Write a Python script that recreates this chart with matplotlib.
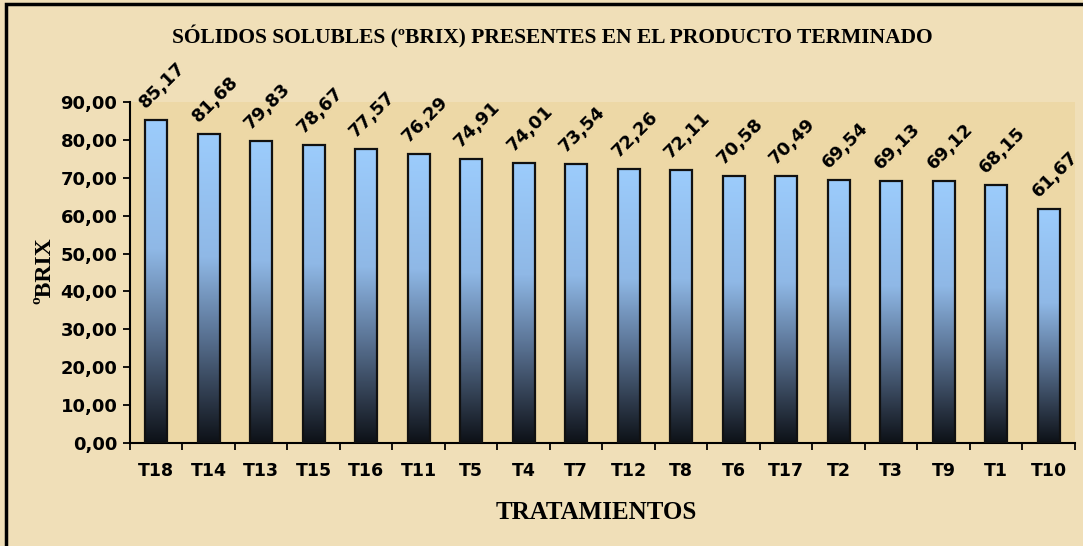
import matplotlib
matplotlib.use('Agg')
import matplotlib.pyplot as plt
import numpy as np
from matplotlib.colors import LinearSegmentedColormap
from matplotlib.patches import Rectangle

# Data
tratamientos = ['T18', 'T14', 'T13', 'T15', 'T16', 'T11', 'T5', 'T4', 'T7',
                'T12', 'T8', 'T6', 'T17', 'T2', 'T3', 'T9', 'T1', 'T10']
brix = [85.17, 81.68, 79.83, 78.67, 77.57, 76.29, 74.91, 74.01, 73.54,
        72.26, 72.11, 70.58, 70.49, 69.54, 69.13, 69.12, 68.15, 61.67]
y_ticks = np.arange(0, 91, 10)

title = 'SÓLIDOS SOLUBLES (ºBRIX) PRESENTES EN EL PRODUCTO TERMINADO'
xlabel = 'TRATAMIENTOS'
ylabel = 'ºBRIX'

serif = ['Liberation Serif', 'DejaVu Serif']
sans = ['DejaVu Sans']

fig = plt.figure(figsize=(10.83, 5.46), dpi=100)
fig.patch.set_facecolor('#F0DFB8')
ax = fig.add_axes([0.120, 0.1886, 0.8726, 0.6246])
ax.set_facecolor('#EDD8A6')

# outer frame
fig.patches.append(Rectangle((0.0055, -0.01), 1.0, 1.0027, transform=fig.transFigure,
                             fill=False, edgecolor='black', linewidth=2.5, zorder=10))

x = np.arange(len(tratamientos))
bars = ax.bar(x, brix, width=0.42, facecolor='none', edgecolor='#111111',
              linewidth=1.6, zorder=3)

# gradient fill: light blue on top, near black at the bottom
cmap = LinearSegmentedColormap.from_list(
    'barras', [(0.0, '#0D1117'), (0.13, '#2A3545'), (0.35, '#5A7394'),
               (0.6, '#8FB8E6'), (1.0, '#9CCCFC')], N=256)
grad = np.linspace(0, 1, 256).reshape(-1, 1)
for b in bars:
    x0, w, h = b.get_x(), b.get_width(), b.get_height()
    im = ax.imshow(grad, cmap=cmap, origin='lower', aspect='auto',
                   extent=[x0, x0 + w, 0, h], zorder=2)
    im.set_clip_path(b)

for xi, v in zip(x, brix):
    ax.annotate(f'{v:.2f}'.replace('.', ','), (xi, v), xytext=(4.5, 25),
                textcoords='offset points', ha='center', va='center',
                rotation=45, fontsize=13, fontweight='bold', family=sans,
                annotation_clip=False)

ax.set_xlim(-0.5, len(tratamientos) - 0.5)
ax.set_ylim(0, 90)
ax.set_yticks(y_ticks)
ax.set_yticklabels([f'{t:.2f}'.replace('.', ',') for t in y_ticks],
                   fontsize=13, fontweight='bold', family=sans)
ax.set_xticks(x)
ax.set_xticklabels(tratamientos, fontsize=12.5, fontweight='bold', family=sans)
ax.set_xticks(np.arange(-0.5, len(tratamientos)), minor=True)
ax.tick_params(axis='x', which='major', length=0, pad=14)
ax.tick_params(axis='x', which='minor', length=5, width=1.3, direction='out')
ax.tick_params(axis='y', length=5, width=1.3, direction='out', pad=4)

for s in ['top', 'right']:
    ax.spines[s].set_visible(False)
for s in ['left', 'bottom']:
    ax.spines[s].set_linewidth(1.5)

fig.text(0.51, 0.932, title, ha='center', va='center', fontsize=15.5,
         fontweight='bold', family=serif)
fig.text(0.551, 0.062, xlabel, ha='center', va='center', fontsize=18,
         fontweight='bold', family=serif)
fig.text(0.041, 0.504, ylabel, ha='center', va='center', rotation=90,
         fontsize=17, fontweight='bold', family=serif)

fig.savefig('out.png', dpi=100, facecolor=fig.get_facecolor())
